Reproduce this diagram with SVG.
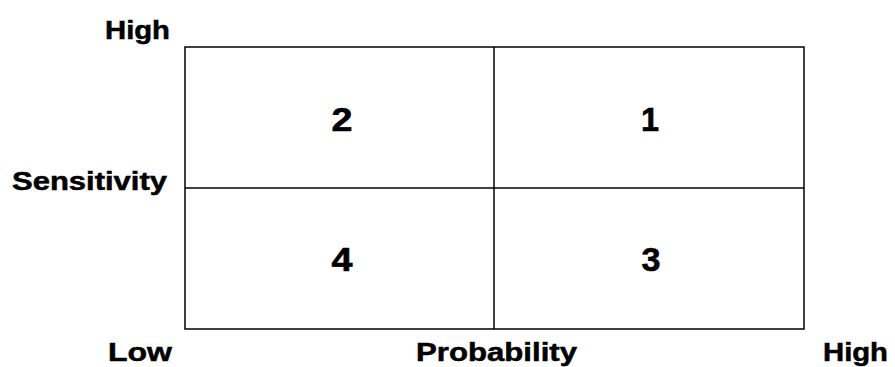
<svg xmlns="http://www.w3.org/2000/svg" width="895" height="367" viewBox="0 0 895 367">
<style>
.lbl{font-family:"Liberation Sans",Arial,sans-serif;font-weight:bold;font-size:25px;fill:#000;stroke:#000;stroke-width:0.5}
.num{font-family:"Liberation Sans",Arial,sans-serif;font-weight:bold;font-size:33px;fill:#000;stroke:#000;stroke-width:0.6;text-anchor:middle}
.ln{stroke:#000;stroke-width:1.5;fill:none}
</style>
<rect width="895" height="367" fill="#fff"/>
<g id="grid">
<rect class="ln" x="185" y="47" width="619" height="282"/>
<line class="ln" x1="494" y1="47" x2="494" y2="329"/>
<line class="ln" x1="185" y1="188" x2="804" y2="188"/>
</g>
<g id="cell-2"><text class="num" x="342" y="131" textLength="21" lengthAdjust="spacingAndGlyphs">2</text></g>
<g id="cell-1"><text class="num" x="650" y="131" textLength="18" lengthAdjust="spacingAndGlyphs">1</text></g>
<g id="cell-4"><text class="num" x="342" y="271" textLength="21" lengthAdjust="spacingAndGlyphs">4</text></g>
<g id="cell-3"><text class="num" x="651" y="271" textLength="19" lengthAdjust="spacingAndGlyphs">3</text></g>
<g id="axis-labels">
<text class="lbl" x="105" y="39" textLength="65" lengthAdjust="spacingAndGlyphs">High</text>
<text class="lbl" x="12" y="190" textLength="155" lengthAdjust="spacingAndGlyphs">Sensitivity</text>
<text class="lbl" x="108" y="361" textLength="64" lengthAdjust="spacingAndGlyphs">Low</text>
<text class="lbl" x="416" y="361" textLength="161" lengthAdjust="spacingAndGlyphs">Probability</text>
<text class="lbl" x="823" y="361" textLength="65" lengthAdjust="spacingAndGlyphs">High</text>
</g>
</svg>
